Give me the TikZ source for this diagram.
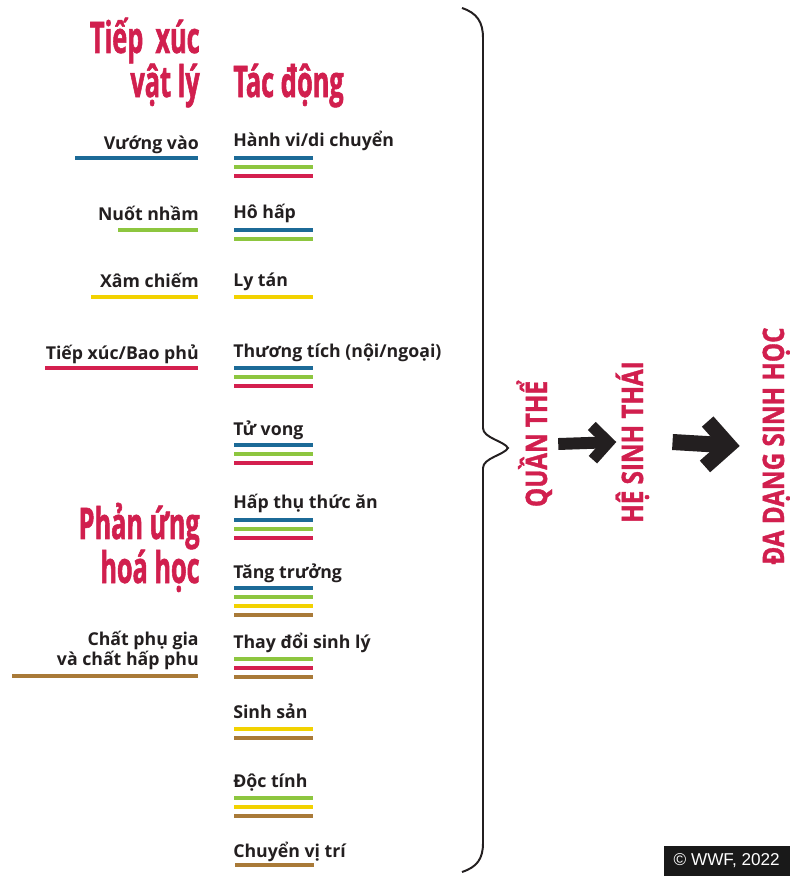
\documentclass[tikz,border=0pt]{standalone}
\usepackage{fontspec}
\setmainfont{Open Sans}
\newfontfamily\fuentetitulo[FakeStretch=0.58, FakeBold=1.2]{Open Sans}
\newfontfamily\fuentevertical[FakeStretch=0.82, FakeBold=1.2]{Open Sans}
\newfontfamily\fuentecopy{Liberation Sans}
\usetikzlibrary{arrows.meta}

\definecolor{tinta}{HTML}{231F20}
\definecolor{rojotit}{HTML}{D11F4E}
\definecolor{azulL}{HTML}{1C6A97}
\definecolor{verdeL}{HTML}{8DC63F}
\definecolor{rojoL}{HTML}{D4204F}
\definecolor{amarilloL}{HTML}{F2D200}
\definecolor{marronL}{HTML}{A97A38}

\tikzstyle{texto} = [inner sep=0pt, text=tinta, font=\fontsize{12.6}{14.2}\selectfont\bfseries]
\tikzstyle{izq} = [texto, anchor=base east, align=right]
\tikzstyle{der} = [texto, anchor=base west, align=left]
\tikzstyle{titulo} = [inner sep=0pt, text=rojotit, align=right, font=\fuentetitulo\fontsize{31}{31.3}\selectfont\bfseries]
\tikzstyle{vertical} = [inner sep=0pt, text=rojotit, rotate=90, anchor=base, font=\fuentevertical\fontsize{21}{24}\selectfont\bfseries]
\tikzstyle{linea} = [line width=2.85pt]
\tikzstyle{azul} = [linea, draw=azulL]
\tikzstyle{verde} = [linea, draw=verdeL]
\tikzstyle{rojo} = [linea, draw=rojoL]
\tikzstyle{amarillo} = [linea, draw=amarilloL]
\tikzstyle{marron} = [linea, draw=marronL]
\tikzstyle{llave} = [draw=tinta, line width=1.4pt]
\tikzstyle{flechauno} = [draw=tinta, line width=8.5pt, -{Straight Barb[length=11.5pt, width=24pt, line width=8pt]}]
\tikzstyle{flechados} = [draw=tinta, line width=11.4pt, -{Straight Barb[length=16pt, width=32pt, line width=11pt]}]
\tikzstyle{copyright} = [fill=black!90, text=white, anchor=south east, minimum width=3.15cm, minimum height=0.75cm, font=\fuentecopy\fontsize{12.2}{13}\selectfont]

\begin{document}
\begin{tikzpicture}[x=0.025cm, y=-0.025cm]
    \useasboundingbox (0,0) rectangle (790,876);

    % titulos
    \node (fisico) [titulo, anchor=base east] at (200,97) {Tiếp\hspace{4pt} xúc\\vật lý};
    \node (quimico) [titulo, anchor=base east] at (200,583) {Phản ứng\\hoá học};
    \node (impacto) [titulo, anchor=base west] at (233,97) {Tác động};

    % columna izquierda
    \node (vuong) [izq] at (199,149) {Vướng vào};
    \node (nuot) [izq] at (199,220) {Nuốt nhầm};
    \node (xam) [izq] at (199,287) {Xâm chiếm};
    \node (bao) [izq] at (199,359) {Tiếp xúc/Bao phủ};
    \node (phugia) [izq] at (199,665) {Chất phụ gia\\và chất hấp phu};

    \draw [azul] (75,158) -- (198,158);
    \draw [verde] (118,230) -- (198,230);
    \draw [amarillo] (91,297) -- (198,297);
    \draw [rojo] (45,368) -- (198,368);
    \draw [marron] (12,676) -- (198,676);

    % columna derecha
    \node (hanhvi) [der] at (233,146) {Hành vi/di chuyển};
    \node (hohap) [der] at (233,218) {Hô hấp};
    \node (lytan) [der] at (233,286) {Ly tán};
    \node (thuong) [der] at (233,357) {Thương tích (nội/ngoại)};
    \node (tuvong) [der] at (233,435) {Tử vong};
    \node (hapthu) [der] at (233,508) {Hấp thụ thức ăn};
    \node (tang) [der] at (233,578) {Tăng trưởng};
    \node (thaydoi) [der] at (233,648) {Thay đổi sinh lý};
    \node (sinhsan) [der] at (233,718) {Sinh sản};
    \node (docTinh) [der] at (233,787) {Độc tính};
    \node (chuyen) [der] at (233,857) {Chuyển vị trí};

    \draw [azul] (234,158) -- (313,158);
    \draw [verde] (234,167) -- (313,167);
    \draw [rojo] (234,176) -- (313,176);

    \draw [azul] (234,230) -- (313,230);
    \draw [verde] (234,239) -- (313,239);

    \draw [amarillo] (234,297) -- (313,297);

    \draw [azul] (234,368) -- (313,368);
    \draw [verde] (234,377) -- (313,377);
    \draw [rojo] (234,386) -- (313,386);

    \draw [azul] (234,445) -- (313,445);
    \draw [verde] (234,454) -- (313,454);
    \draw [rojo] (234,463) -- (313,463);

    \draw [azul] (234,520) -- (313,520);
    \draw [verde] (234,529) -- (313,529);
    \draw [rojo] (234,538) -- (313,538);

    \draw [azul] (234,588) -- (313,588);
    \draw [verde] (234,597) -- (313,597);
    \draw [amarillo] (234,606) -- (313,606);
    \draw [marron] (234,615) -- (313,615);

    \draw [verde] (234,659) -- (313,659);
    \draw [rojo] (234,668) -- (313,668);
    \draw [marron] (234,677) -- (313,677);

    \draw [amarillo] (234,729) -- (313,729);
    \draw [marron] (234,738) -- (313,738);

    \draw [verde] (234,798) -- (313,798);
    \draw [amarillo] (234,807) -- (313,807);
    \draw [marron] (234,816) -- (313,816);

    \draw [marron] (235,865) -- (314,865);

    % llave
    \draw [llave] (462,8) .. controls (477,13) and (483,22) .. (483,38) -- (483,428)
        .. controls (483,438) and (504,441) .. (508,448)
        .. controls (504,455) and (483,458) .. (483,468) -- (483,843)
        .. controls (483,859) and (477,867) .. (462,872);

    % niveles
    \node (quan) [vertical] at (547,444) {QUẦN THỂ};
    \node (hesinh) [vertical] at (643,442) {HỆ SINH THÁI};
    \node (dadang) [vertical] at (784,446) {ĐA DẠNG SINH HỌC};

    \draw [flechauno] ([xshift=8pt]quan.base) -- ([xshift=-19pt]hesinh.base);
    \draw [flechados] ([xshift=21pt]hesinh.base) -- ([xshift=-31.5pt]dadang.base);

    \node (wwf) [copyright] at (790,876) {© WWF, 2022};
\end{tikzpicture}
\end{document}
